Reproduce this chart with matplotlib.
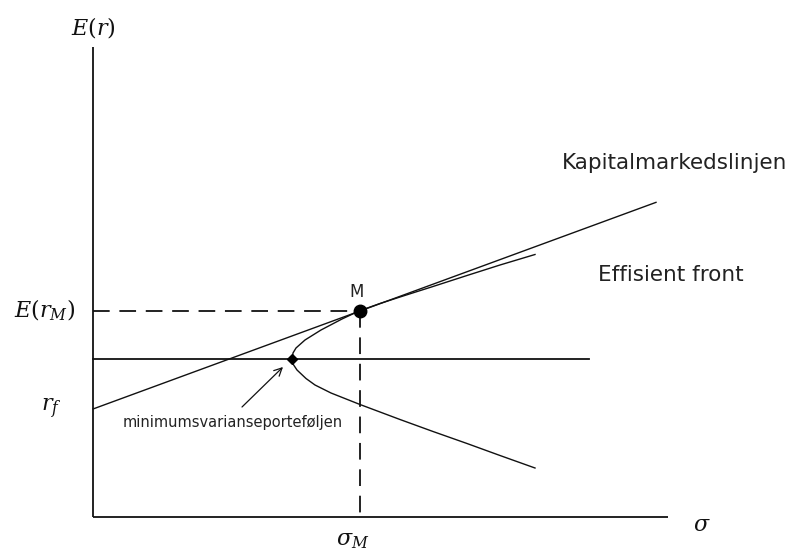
import matplotlib
matplotlib.use("Agg")
import matplotlib.pyplot as plt

# --- data (diagram units) ---
sigma_M = 267
E_M = 206
r_f = 108
sigma_min = 199
E_min = 158
cml_end_sigma = 563
hline_end_sigma = 496
x_axis_end = 575
y_axis_end = 470

front_sigma = [442, 407, 374, 340, 307, 287, 266, 249, 228, 212, 203, 200, 199,
               200, 204, 213, 222, 238, 267, 307, 340, 374, 407, 442]
front_E = [262.5, 252, 241.5, 230.5, 220, 213.5, 206, 198, 187, 177, 169, 164, 158,
           153, 147, 138.5, 132, 124, 112.5, 97.5, 85.5, 73.5, 61.5, 49]

plt.rcParams['lines.scale_dashes'] = False
plt.rcParams['mathtext.fontset'] = 'dejavuserif'
fig = plt.figure(figsize=(8, 5.53), dpi=100)
ax = fig.add_axes([0, 0, 1, 1])
ax.set_xlim(-93, 707)
ax.set_ylim(-36, 517)
ax.axis('off')

c = '#111111'
# axes
ax.plot([0, 0], [0, y_axis_end], color=c, lw=1.3, solid_capstyle='butt')
ax.plot([0, x_axis_end], [0, 0], color=c, lw=1.3, solid_capstyle='butt')

# horizontal line at min variance level
ax.plot([0, hline_end_sigma], [E_min, E_min], color=c, lw=1.3)

# dashed guides
ax.plot([0, sigma_M], [E_M, E_M], color=c, lw=1.3, dashes=(12, 7))
ax.plot([sigma_M, sigma_M], [E_M, 0], color=c, lw=1.3, dashes=(12, 7))

# capital market line
ax.plot([0, cml_end_sigma], [r_f, r_f + (E_M - r_f) / sigma_M * cml_end_sigma],
        color=c, lw=1.0)

# efficient frontier
ax.plot(front_sigma, front_E, color=c, lw=1.0, solid_joinstyle='round')

# points
ax.plot([sigma_M], [E_M], 'o', color='black', markersize=9)
ax.plot([sigma_min], [E_min], 'D', color='black', markersize=5.5)

# math labels
ax.text(0, 490, r'$E(r)$', fontsize=16, ha='center', va='center', color=c)
ax.text(-48, 207, r'$E(r_M)$', fontsize=16, ha='center', va='center', color=c)
ax.text(-31, 108, r'$r_f$', fontsize=16, ha='right', va='center', color=c)
ax.text(sigma_M - 7, -24, r'$\sigma_M$', fontsize=16, ha='center', va='center', color=c)
ax.text(609, -8, r'$\sigma$', fontsize=16, ha='center', va='center', color=c)

# text labels
fam = ['DejaVu Sans']
ax.text(264, 225, 'M', fontsize=12, ha='center', va='center', color='#222222', family=fam)
ax.text(469, 354, 'Kapitalmarkedslinjen', fontsize=15.5, ha='left', va='center',
        color='#222222', family=fam)
ax.text(505, 242, 'Effisient front', fontsize=15.5, ha='left', va='center',
        color='#222222', family=fam)
ax.text(30, 94, 'minimumsvarianseporteføljen', fontsize=10.5, ha='left', va='center',
        color='#222222', family=fam)

ax.annotate('', xy=(190, 150), xytext=(149, 110),
            arrowprops=dict(arrowstyle='->', color=c, lw=0.9,
                            mutation_scale=14, shrinkA=0, shrinkB=0))

fig.savefig('out.png', dpi=100)
